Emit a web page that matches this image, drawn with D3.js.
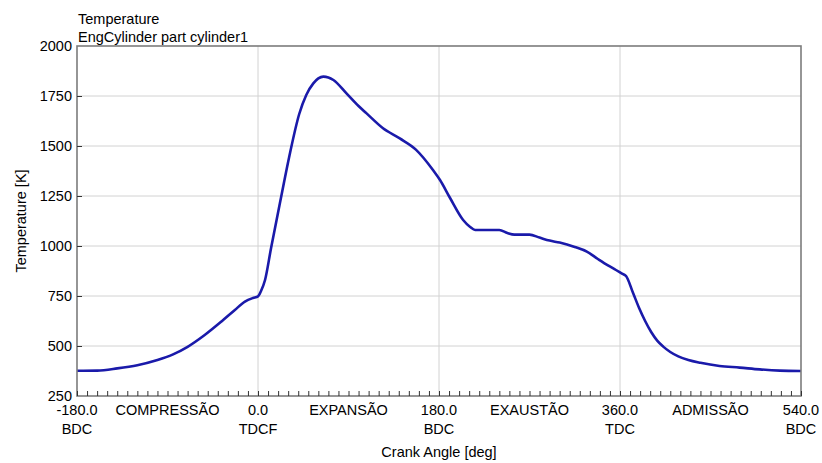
<!DOCTYPE html>
<html>
<head>
<meta charset="utf-8">
<script src="https://cdn.jsdelivr.net/npm/d3@7"></script>
<style>
  html, body { margin: 0; padding: 0; background: #fff; }
  svg { display: block; font-family: "Liberation Sans", Arial, sans-serif; }
</style>
</head>
<body>
<svg id="chart" width="822" height="463"></svg>
<script>
// Cylinder gas temperature over one engine cycle
const crankAngle = [
  -180, -160, -140, -120, -100, -85, -70, -53, -36, -23, -13, -5, 0, 3, 7,
  13, 23, 31, 41, 48, 55, 60, 65, 70, 75, 88, 100, 108, 124, 141, 157, 174,
  181, 191, 204, 211, 216, 240, 248, 255, 270, 280, 290, 300, 315, 327, 338,
  348, 356, 362, 366, 373, 379, 385, 391, 397, 403, 410, 418, 428, 440, 459, 479, 499, 519, 540
];
const temperature = [
  376, 377, 388, 404, 430, 457, 496, 555, 624, 680, 722, 740, 748, 775, 830,
  990, 1245, 1445, 1660, 1755, 1813, 1838, 1847, 1843, 1830, 1763, 1700, 1663, 1590, 1538, 1482, 1380,
  1330, 1240, 1130, 1095, 1080, 1080, 1065, 1057, 1057, 1042, 1027, 1017, 995, 972, 935,
  903, 880, 862, 850, 765, 690, 625, 570, 527, 497, 470, 448, 430, 416, 400, 392, 383, 377, 375
];

const majorTicks = [-180, 0, 180, 360, 540];
const majorNames = ["BDC", "TDCF", "BDC", "TDC", "BDC"];
const phaseAngles = [-90, 90, 270, 450];
const phaseNames = ["COMPRESSÃO", "EXPANSÃO", "EXAUSTÃO", "ADMISSÃO"];
const yTicks = [250, 500, 750, 1000, 1250, 1500, 1750, 2000];

const svg = d3.select("#chart");
const plotLeft = 77, plotRight = 801, plotTop = 46, plotBottom = 396;

const x = d3.scaleLinear().domain([-180, 540]).range([plotLeft, plotRight]);
const y = d3.scaleLinear().domain([250, 2000]).range([plotBottom, plotTop]);

const textColor = "#000";
const fontSize = "14.5px";

// grid
const grid = svg.append("g");
grid.selectAll("line.v").data(majorTicks.slice(1, -1)).join("line")
  .attr("class", "v")
  .attr("x1", d => x(d)).attr("x2", d => x(d))
  .attr("y1", plotTop).attr("y2", plotBottom)
  .attr("stroke", "#d2d2d2").attr("stroke-width", 1);
grid.selectAll("line.h").data(yTicks.slice(1, -1)).join("line")
  .attr("class", "h")
  .attr("x1", plotLeft).attr("x2", plotRight)
  .attr("y1", d => y(d)).attr("y2", d => y(d))
  .attr("stroke", "#d2d2d2").attr("stroke-width", 1);

// temperature curve
const line = d3.line()
  .x((d, i) => x(crankAngle[i]))
  .y(d => y(d))
  .curve(d3.curveMonotoneX);
svg.append("path")
  .datum(temperature)
  .attr("d", line)
  .attr("fill", "none")
  .attr("stroke", "#1a1aaa")
  .attr("stroke-width", 2.6)
  .attr("stroke-linejoin", "round");

// frame
svg.append("rect")
  .attr("x", plotLeft).attr("y", plotTop)
  .attr("width", plotRight - plotLeft).attr("height", plotBottom - plotTop)
  .attr("fill", "none").attr("stroke", "#7c7c7c").attr("stroke-width", 1.6);

// bottom axis: minor ticks every 10 deg, pointing inward
const xAxis = d3.axisBottom(x)
  .tickValues(d3.range(-180, 541, 10))
  .tickSize(-5)
  .tickFormat("");
const gx = svg.append("g").attr("transform", `translate(0,${plotBottom})`).call(xAxis);
gx.select(".domain").remove();
gx.selectAll(".tick line").attr("stroke", "#333").attr("stroke-width", 1);

// major tick labels (two lines) and phase names
const xl = svg.append("g").attr("fill", textColor).attr("font-size", fontSize).attr("text-anchor", "middle");
xl.selectAll("text.v").data(majorTicks).join("text")
  .attr("class", "v")
  .attr("x", d => x(d)).attr("y", 415)
  .text(d => d.toFixed(1));
xl.selectAll("text.n").data(majorNames).join("text")
  .attr("class", "n")
  .attr("x", (d, i) => x(majorTicks[i])).attr("y", 434)
  .text(d => d);
xl.selectAll("text.p").data(phaseNames).join("text")
  .attr("class", "p")
  .attr("x", (d, i) => x(phaseAngles[i])).attr("y", 415)
  .text(d => d);

// left axis
const yAxis = d3.axisLeft(y).tickValues(yTicks).tickSize(-5).tickPadding(5).tickFormat(d3.format("d"));
const gy = svg.append("g").attr("transform", `translate(${plotLeft},0)`).call(yAxis);
gy.select(".domain").remove();
gy.selectAll(".tick line").attr("stroke", "#333");
gy.selectAll(".tick text").attr("fill", textColor).attr("font-size", fontSize)
  .attr("font-family", "Liberation Sans, Arial, sans-serif");
gy.selectAll(".tick").filter(d => d === 250 || d === 2000).select("line").remove();

// titles
svg.append("text").attr("x", 78).attr("y", 24).attr("font-size", fontSize).attr("fill", textColor)
  .text("Temperature");
svg.append("text").attr("x", 78).attr("y", 42).attr("font-size", fontSize).attr("fill", textColor)
  .text("EngCylinder part cylinder1");

svg.append("text").attr("x", (plotLeft + plotRight) / 2).attr("y", 457)
  .attr("text-anchor", "middle").attr("font-size", fontSize).attr("fill", textColor)
  .text("Crank Angle [deg]");

svg.append("text")
  .attr("transform", `translate(26,${(plotTop + plotBottom) / 2}) rotate(-90)`)
  .attr("text-anchor", "middle").attr("font-size", fontSize).attr("fill", textColor)
  .text("Temperature [K]");
</script>
</body>
</html>
